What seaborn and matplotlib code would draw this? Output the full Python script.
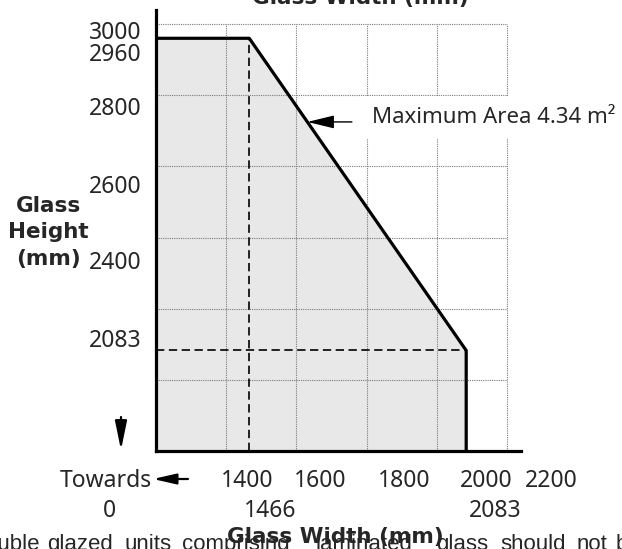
import numpy as np
import matplotlib
matplotlib.use("Agg")
import matplotlib.pyplot as plt
import seaborn as sns

sns.set_style("white")
plt.rcParams["font.family"] = ["Noto Sans", "DejaVu Sans"]

# glass size envelope (mm)
max_height = 2960
max_width = 2083
width_at_max_height = 1466
height_at_max_width = 2083
max_area = 4.34

# axis is broken "towards 0"
x_start, x_end = 1200, 2240
y_start, y_end = 1800, 3040
x_grid = [1400, 1600, 1800, 2000, 2200]
y_grid = [2000, 2200, 2400, 2600, 2800, 3000]

outline_w = [x_start, width_at_max_height, max_width, max_width]
outline_h = [max_height, max_height, height_at_max_width, y_start]

x_labels_top = ["1400", "1600", "1800", "2000", "2200"]
x_labels_low = ["1466", "2083"]
y_labels = ["3000", "2960", "2800", "2600", "2400", "2083"]
ylabel_lines = ["Glass", "Height", "(mm)"]
footer_words = ["Double", "glazed", "units", "comprising", "laminated",
                "glass", "should", "not", "be"]

# label layout, in picture pixels (the drawing is schematic)
W, H = 622, 549
x_top_px = [247, 320, 404, 486.5, 551.7]
x_low_px = [270, 495]
y_lab_py = [39.3, 61, 115, 193.3, 269, 346.7]
ylabel_py = [211.7, 238.5, 265]
footer_px = [40, 47, 124, 182, 315, 436, 500, 577, 616]

bold = dict(family=["DejaVu Sans"], fontweight="bold", fontsize=15.5)


def fpx(x, y):
    return x / W, 1 - y / H


fig = plt.figure(figsize=(W / 100, H / 100), dpi=100)
ax = fig.add_axes([155.7 / W, 97.8 / H, 365.7 / W, 441.4 / H])
ax.set_xlim(x_start, x_end)
ax.set_ylim(y_start, y_end)
ax.set_xticks([])
ax.set_yticks([])
for side in ["top", "right"]:
    ax.spines[side].set_visible(False)
for side in ["left", "bottom"]:
    ax.spines[side].set_linewidth(2.3)
    ax.spines[side].set_color("black")
    ax.spines[side].set_zorder(6)

ax.fill_between(outline_w, outline_h, y_start, color="#e8e8e8", lw=0, zorder=1)

grid_kw = dict(color="#7a7a7a", lw=0.8, linestyles=(0, (1, 1)), zorder=2)
ax.vlines(x_grid, y_start, y_grid[-1], **grid_kw)
ax.hlines(y_grid, x_start, x_grid[-1], **grid_kw)

dash = (0, (5, 2.7))
ax.vlines(width_at_max_height, y_start, max_height, color="black", lw=1.2,
          linestyles=dash, zorder=3)
ax.hlines(height_at_max_width, x_start, max_width, color="black", lw=1.2,
          linestyles=dash, zorder=3)

sns.lineplot(x=outline_w, y=outline_h, sort=False, estimator=None,
             color="black", lw=2.3, ax=ax, zorder=5)

# maximum area annotation, arrow ends on the slanted edge
arrow_h = 2725
arrow_w = np.interp(arrow_h, [height_at_max_width, max_height],
                    [max_width, width_at_max_height])
ax.annotate("", xy=(arrow_w, arrow_h), xytext=(1758, arrow_h),
            arrowprops=dict(arrowstyle="-|>,head_length=1.65,head_width=0.4",
                            mutation_scale=10, color="black", lw=1.0,
                            shrinkA=0, shrinkB=0), zorder=6)
ax.text(1815, 2737, f"Maximum Area {max_area} m\u00b2", fontsize=16,
        ha="left", va="center", zorder=4,
        bbox=dict(boxstyle="square,pad=0.5", fc="white", ec="none"))

# tick labels
for lab, x in zip(x_labels_top, x_top_px):
    fig.text(*fpx(x, 486.7), lab, fontsize=16.5, ha="center", va="baseline")
for lab, x in zip(x_labels_low, x_low_px):
    fig.text(*fpx(x, 516.7), lab, fontsize=16.5, ha="center", va="baseline")
for lab, y in zip(y_labels, y_lab_py):
    fig.text(*fpx(141, y), lab, fontsize=16.5, ha="right", va="baseline")

fig.text(*fpx(152, 486.7), "Towards", fontsize=16.5, ha="right", va="baseline")
fig.text(*fpx(109, 516.7), "0", fontsize=16.5, ha="center", va="baseline")

arrow_kw = dict(mutation_scale=10, color="black", lw=1.6, shrinkA=0, shrinkB=0)
fig.add_artist(matplotlib.patches.FancyArrowPatch(
    fpx(121, 417), fpx(121, 450), transform=fig.transFigure,
    arrowstyle="-|>,head_length=1.75,head_width=0.36", **arrow_kw))
fig.add_artist(matplotlib.patches.FancyArrowPatch(
    fpx(188, 479), fpx(153, 479), transform=fig.transFigure,
    arrowstyle="-|>,head_length=1.4,head_width=0.32", **arrow_kw))

for line, y in zip(ylabel_lines, ylabel_py):
    fig.text(*fpx(48.5, y), line, ha="center", va="baseline", **bold)

fig.text(*fpx(360, 4), "Glass Width (mm)", ha="center", va="baseline", **bold)

# clipped paragraph under the chart
for i, (word, x) in enumerate(zip(footer_words, footer_px)):
    fig.text(*fpx(x, 550), word, family=["Liberation Sans"], fontsize=16,
             ha="right" if i == 0 else "left", va="baseline", zorder=1)
fig.text(*fpx(335, 543), "Glass Width (mm)", ha="center", va="baseline",
         zorder=5, **bold)

fig.savefig("out.png", dpi=100)
